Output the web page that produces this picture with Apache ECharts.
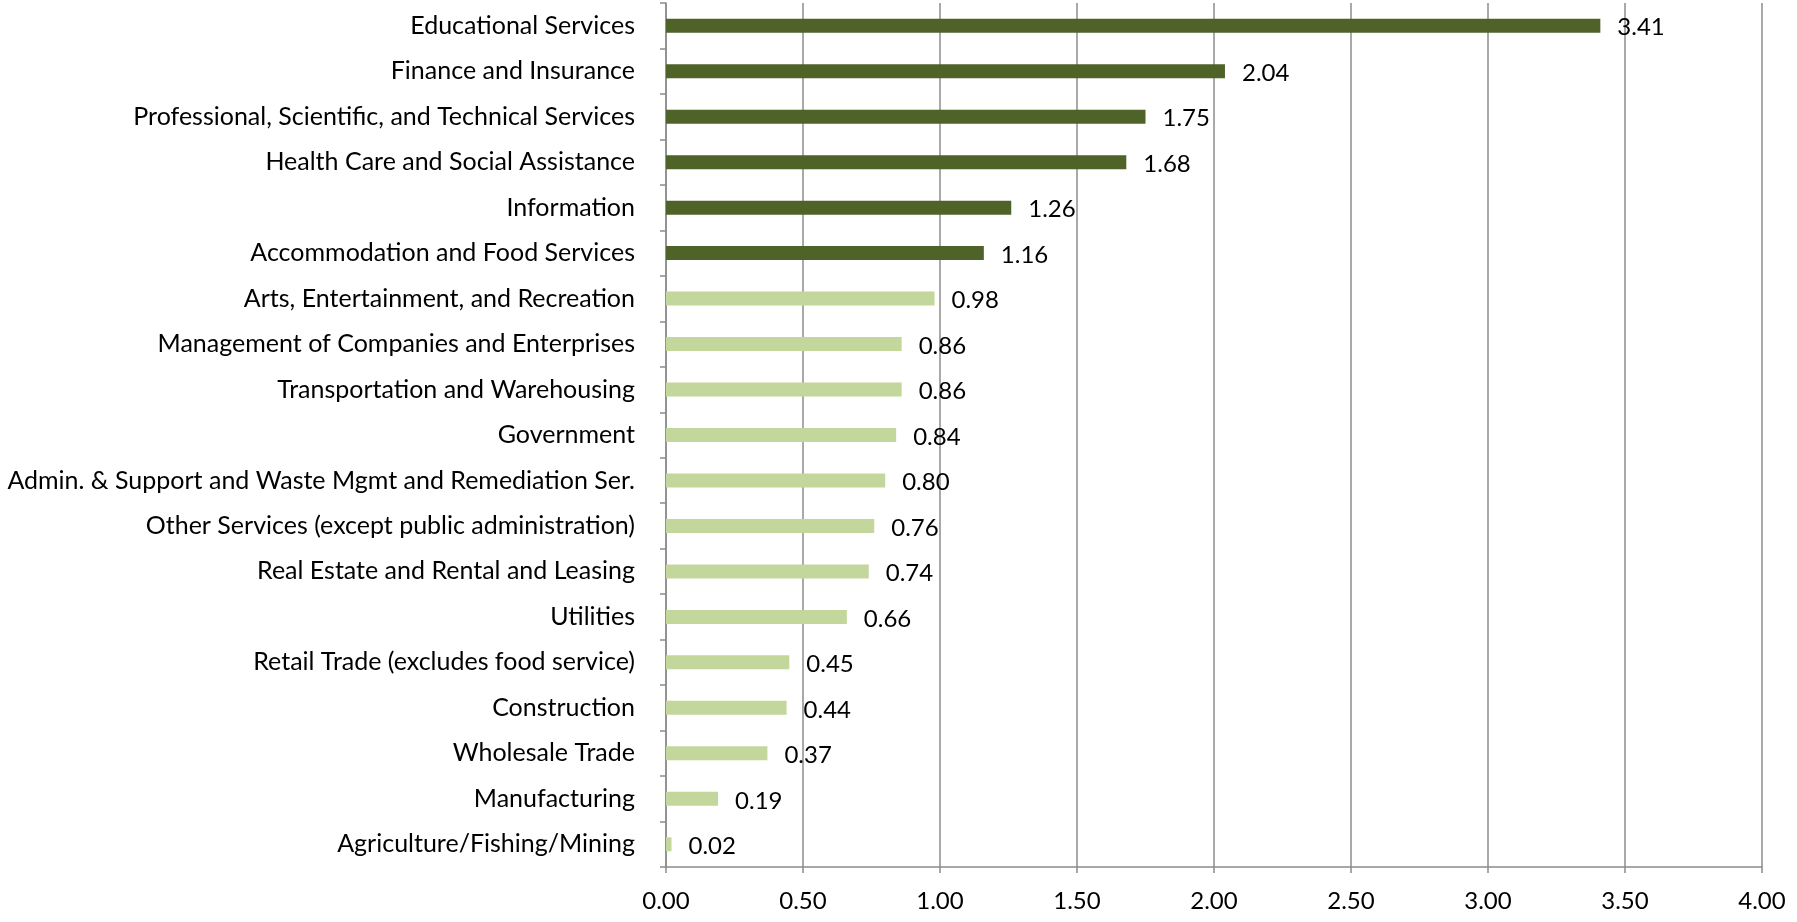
<!DOCTYPE html>
<html>
<head>
<meta charset="utf-8">
<style>
    html, body {
        margin: 0;
        padding: 0;
        background: #fff;
    }

    #chart {
        width: 1797px;
        height: 922px;
    }
</style>
<script src="https://cdn.jsdelivr.net/npm/echarts@6/dist/echarts.min.js"></script>
</head>
<body>
<div id="chart"></div>
<script>
const categories = [
    "Educational Services",
    "Finance and Insurance",
    "Professional, Scientific, and Technical Services",
    "Health Care and Social Assistance",
    "Information",
    "Accommodation and Food Services",
    "Arts, Entertainment, and Recreation",
    "Management of Companies and Enterprises",
    "Transportation and Warehousing",
    "Government",
    "Admin. & Support and Waste Mgmt and Remediation Ser.",
    "Other Services (except public administration)",
    "Real Estate and Rental and Leasing",
    "Utilities",
    "Retail Trade (excludes food service)",
    "Construction",
    "Wholesale Trade",
    "Manufacturing",
    "Agriculture/Fishing/Mining",
];
const values = [3.41, 2.04, 1.75, 1.68, 1.26, 1.16, 0.98, 0.86, 0.86, 0.84, 0.80, 0.76, 0.74, 0.66, 0.45, 0.44, 0.37, 0.19, 0.02];

const darkGreen = "#4f6228";
const lightGreen = "#c3d69b";
const gridColor = "#8c8c8c";
const textColor = "#000";
const fontFamily = "Lato, 'Open Sans', sans-serif";

let mychart = echarts.init(document.getElementById("chart"), null, { renderer: "canvas" });
let option = {
    animation: false,
    grid: { left: 666, right: 35, top: 3, bottom: 55, containLabel: false },
    xAxis: {
        type: "value",
        min: 0,
        max: 4,
        interval: 0.5,
        axisLine: { show: true, lineStyle: { color: gridColor, width: 1.5 } },
        axisTick: { show: true, length: 6, lineStyle: { color: gridColor, width: 1.5 } },
        splitLine: { show: true, lineStyle: { color: gridColor, width: 1.5 } },
        axisLabel: {
            color: textColor,
            fontSize: 24,
            fontFamily: fontFamily,
            margin: 22,
            formatter: (v) => v.toFixed(2),
        },
    },
    yAxis: {
        type: "category",
        data: categories,
        inverse: true,
        axisLine: { show: true, lineStyle: { color: gridColor, width: 1.5 } },
        axisTick: { show: true, length: 6, lineStyle: { color: gridColor, width: 1.5 } },
        axisLabel: {
            color: textColor,
            fontSize: 25,
            fontFamily: fontFamily,
            margin: 31,
        },
    },
    series: [{
        type: "bar",
        data: values,
        barWidth: 14,
        itemStyle: {
            color: (p) => p.value > 1 ? darkGreen : lightGreen,
        },
        label: {
            show: true,
            position: "right",
            distance: 17,
            offset: [0, 2],
            color: textColor,
            fontSize: 24,
            fontFamily: fontFamily,
            formatter: (p) => p.value.toFixed(2),
        },
    }],
};
mychart.setOption(option);
</script>
</body>
</html>
